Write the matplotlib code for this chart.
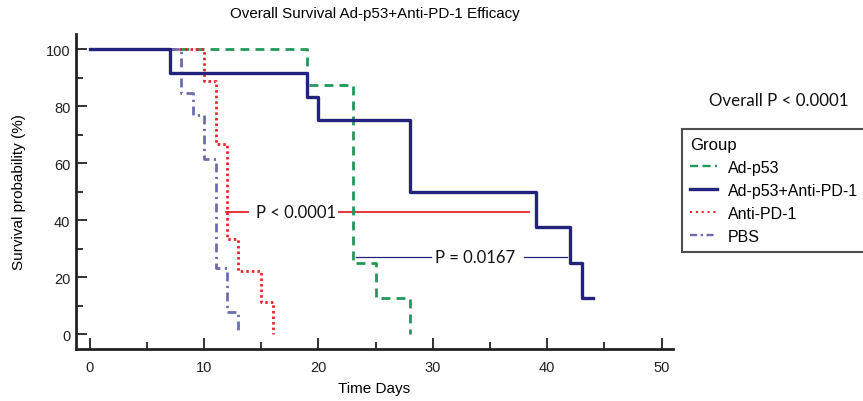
import matplotlib
matplotlib.use("Agg")
import matplotlib.pyplot as plt
from matplotlib.lines import Line2D

# ---- data ----
groups = ["Ad-p53", "Ad-p53+Anti-PD-1", "Anti-PD-1", "PBS"]

adp53_days = [0, 19, 23, 25, 28]
adp53_surv = [100, 87.5, 25, 12.5, 0]

combo_days = [0, 7, 19, 20, 28, 39, 42, 43, 44]
combo_surv = [100, 91.7, 83.3, 75, 50, 37.5, 25, 12.5, 12.5]

antipd1_days = [0, 10, 11, 12, 13, 15, 16]
antipd1_surv = [100, 88.9, 66.7, 33.3, 22.2, 11.1, 0]

pbs_days = [0, 8, 9, 10, 11, 12, 13]
pbs_surv = [100, 84.6, 76.9, 61.5, 23.1, 7.7, 0]

xticks = [0, 10, 20, 30, 40, 50]
yticks = [0, 20, 40, 60, 80, 100]

p_labels = ["P < 0.0001", "P = 0.0167"]
overall_p = "Overall P < 0.0001"

# ---- style ----
c_green = "#23975a"
c_navy = "#23237e"
c_red = "#e2252b"
c_pbs = "#6c6cae"

fig = plt.figure(figsize=(8.63, 4.02), dpi=100)
ax = fig.add_axes([0.088, 0.129, 0.692, 0.784])

sans = ["Liberation Sans", "DejaVu Sans"]
lato = ["Lato", "DejaVu Sans"]

ax.step(adp53_days, adp53_surv, where="post", color=c_green, lw=2.0,
        linestyle=(0, (3.2, 2.2)), zorder=3)
ax.step(combo_days, combo_surv, where="post", color=c_navy, lw=2.4,
        linestyle="-", zorder=4)
ax.step(antipd1_days, antipd1_surv, where="post", color=c_red, lw=2.0,
        linestyle=(0, (0.9, 1.1)), zorder=3)
ax.step(pbs_days, pbs_surv, where="post", color=c_pbs, lw=2.0,
        linestyle=(0, (3.2, 1.6, 0.8, 1.6)), zorder=3)

# p-value annotation lines
ax.plot([11.95, 13.8], [42.8, 42.8], color=c_red, lw=1.3, zorder=2)
ax.plot([21.8, 38.4], [42.8, 42.8], color=c_red, lw=1.3, zorder=2)
ax.text(18.0, 42.8, p_labels[0], ha="center", va="center", fontsize=12,
        family=lato, color="#111111")
ax.plot([23.3, 29.8], [27, 27], color=c_navy, lw=0.9, zorder=2)
ax.plot([38.0, 41.7], [27, 27], color=c_navy, lw=0.9, zorder=2)
ax.text(33.7, 27, p_labels[1], ha="center", va="center", fontsize=12,
        family=lato, color="#111111")

ax.set_xlim(-1.2, 51)
ax.set_ylim(-5.3, 105.3)
ax.set_xticks(xticks)
ax.set_xticks([5, 15, 25, 35, 45], minor=True)
ax.set_yticks(yticks)
ax.set_yticks([10, 30, 50, 70, 90], minor=True)
ax.tick_params(axis="both", which="both", direction="in", width=1.3,
               colors="#222222")
ax.tick_params(axis="both", which="major", length=8, labelsize=10.5)
ax.tick_params(axis="x", which="major", pad=8)
ax.tick_params(axis="y", which="major", pad=4)
ax.tick_params(axis="both", which="minor", length=5)
for lab in ax.get_xticklabels() + ax.get_yticklabels():
    lab.set_family(sans)

for side in ["top", "right"]:
    ax.spines[side].set_visible(False)
for side in ["left", "bottom"]:
    ax.spines[side].set_linewidth(2.0)
    ax.spines[side].set_color("#222222")

ax.set_xlabel("Time Days", fontsize=11, family=sans, labelpad=5)
ax.set_ylabel("Survival probability (%)", fontsize=11, family=sans, labelpad=14)
ax.set_title("Overall Survival Ad-p53+Anti-PD-1 Efficacy", fontsize=10.9,
             family=sans, pad=12)

fig.text(0.902, 0.75, overall_p, ha="center", va="center", fontsize=12.2,
         family=lato, color="#111111")

handles = [
    Line2D([], [], color=c_green, lw=1.7, linestyle=(0, (3.4, 1.9))),
    Line2D([], [], color=c_navy, lw=2.4, linestyle="-"),
    Line2D([], [], color=c_red, lw=1.5, linestyle=(0, (1.0, 1.8))),
    Line2D([], [], color=c_pbs, lw=1.7, linestyle=(0, (3.0, 1.5, 1.0, 1.5))),
]
leg = fig.legend(handles, groups, loc="upper left",
                 bbox_to_anchor=(0.790, 0.373, 0.215, 0.304),
                 mode="expand", title="Group", alignment="left",
                 prop={"family": sans, "size": 11.5}, title_fontsize=12,
                 frameon=True, fancybox=False, edgecolor="#222222",
                 handlelength=1.7, handletextpad=0.7, labelspacing=0.5,
                 borderpad=0.5, borderaxespad=0)
leg.get_frame().set_linewidth(1.5)
leg.get_title().set_family(sans)

fig.savefig("out.png", dpi=100)
